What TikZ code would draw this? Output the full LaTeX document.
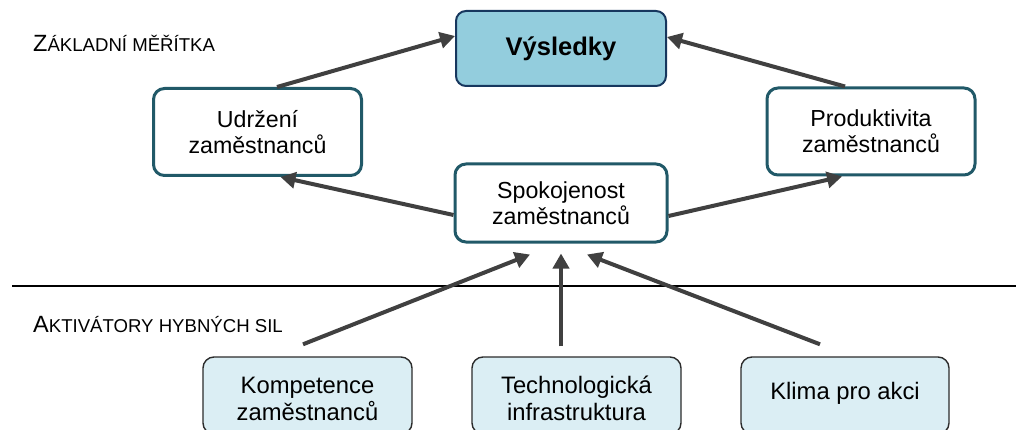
\documentclass[tikz,border=0pt]{standalone}
\usepackage{fontspec}
\setmainfont{Liberation Sans}
\usetikzlibrary{arrows.meta,calc}
\definecolor{arrowgray}{HTML}{404040}
\definecolor{resultfill}{HTML}{93CDDD}
\definecolor{resultdraw}{HTML}{17375E}
\definecolor{tealdraw}{HTML}{215968}
\definecolor{driverfill}{HTML}{DBEEF4}
\definecolor{driverdraw}{HTML}{2B2B2B}
\newcommand{\capbig}{\fontsize{23.5}{26}\selectfont}
\newcommand{\capsmall}{\fontsize{18.6}{20}\selectfont}
\begin{document}
\begin{tikzpicture}[x=1pt,y=-1pt,
  txt/.style={font=\fontsize{23.2}{26}\selectfont, align=center, inner sep=0pt},
  drivertxt/.style={font=\fontsize{23.8}{27}\selectfont, align=center, inner sep=0pt},
  outcome/.style={txt, draw=resultdraw, fill=resultfill, line width=2pt,
    rounded corners=10pt, minimum width=210pt, minimum height=75pt,
    font=\bfseries\fontsize{25.5}{28}\selectfont},
  metric/.style={txt, draw=tealdraw, fill=white, line width=3pt,
    rounded corners=11pt, minimum width=208pt, minimum height=87pt},
  driver/.style={draw=driverdraw, fill=driverfill, line width=1.4pt,
    rounded corners=11pt, minimum width=209pt, minimum height=77pt, inner sep=0pt},
  arr/.style={draw=arrowgray, line width=4pt,
    -{Triangle[length=15pt,width=16pt]}},
  sectionlabel/.style={anchor=base west, inner sep=0pt}]
\useasboundingbox (0,0) rectangle (1016,430);
\clip (0,0) rectangle (1016,430);

% section labels and divider
\node[sectionlabel] (lab1) at (33,52) {\capbig Z\capsmall ÁKLADNÍ MĚŘÍTKA};
\node[sectionlabel] (lab2) at (33,332) {\capbig A\capsmall KTIVÁTORY HYBNÝCH SIL};
\coordinate (divL) at (12,286);
\coordinate (divR) at (1016,286);
\draw[line width=2pt, black] (divL) -- (divR);

% measures
\node[outcome] (vys) at (561,48.5) {Výsledky};
\node[metric] (udr) at (257.5,132) {Udržení\\zaměstnanců};
\node[metric] (pro) at (871,131.5) {Produktivita\\zaměstnanců};
\node[metric, minimum width=212pt, minimum height=78pt] (spo) at (561,203) {Spokojenost\\zaměstnanců};

% drivers (boxes run past the lower edge)
\node[driver] (kom) at (307.5,395.5) {};
\node[driver] (tec) at (576.5,395.5) {};
\node[driver, minimum width=208pt] (kla) at (845,395.5) {};
\node[drivertxt] (komT) at ($(kom.center)+(0,3)$) {Kompetence\\zaměstnanců};
\node[drivertxt] (tecT) at ($(tec.center)+(0,3)$) {Technologická\\infrastruktura};
\node[drivertxt] (klaT) at ($(kla.center)+(0,-2.5)$) {Klima pro akci};

% connectors
\draw[arr] ([xshift=19.5pt]udr.north) -- ($(vys.west)+(0,-12.5)$);
\draw[arr] ([xshift=-26pt]pro.north) -- ($(vys.east)+(0,-11.5)$);
\draw[arr] ($(spo.west)+(0,12)$) -- ($(udr.south)+(23,0)$);
\draw[arr] ($(spo.east)+(0,13)$) -- ($(pro.south)+(-29,0)$);
\draw[arr] ($(kom.north)+(-4.5,-12)$) -- ($(spo.south)+(-31,11)$);
\draw[arr] ($(tec.north)+(-15.5,-10)$) -- ($(spo.south)+(0,10)$);
\draw[arr] ($(kla.north)+(-25,-12)$) -- ($(spo.south)+(26,11)$);
\end{tikzpicture}
\end{document}
